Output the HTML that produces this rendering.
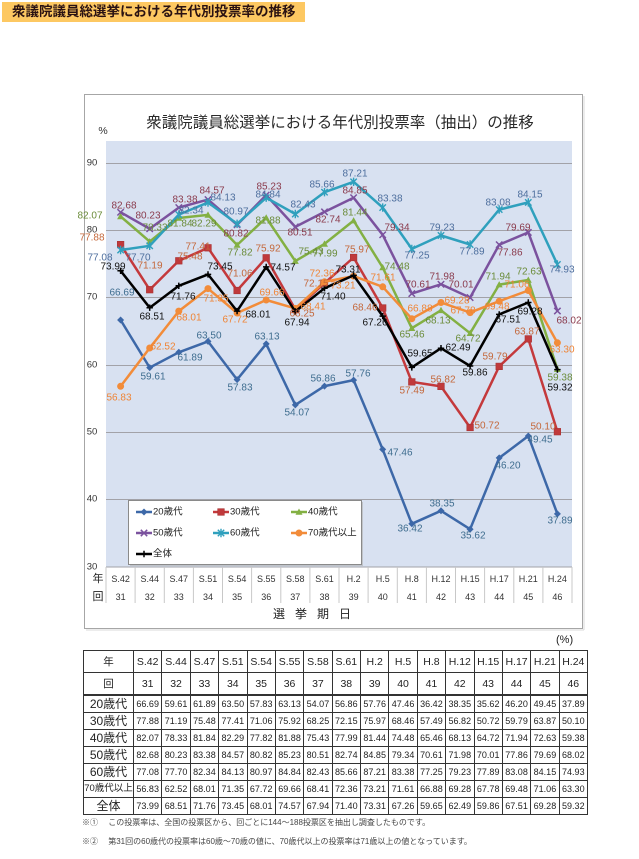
<!DOCTYPE html>
<html><head><meta charset="utf-8">
<style>
html,body{margin:0;padding:0;background:#fff;}
body{width:639px;height:859px;position:relative;overflow:hidden;font-family:"Liberation Sans","Noto Sans CJK JP",sans-serif;}
#banner{position:absolute;left:2px;top:2px;width:303px;height:20px;background:#fdc862;}
#banner span{position:absolute;left:10px;top:0;line-height:20px;font-size:13.5px;font-weight:bold;color:#2a1212;white-space:nowrap;font-family:"Liberation Sans","Noto Sans CJK JP",sans-serif;}
svg{position:absolute;left:0;top:0;}
#t{position:absolute;left:83px;top:650px;border-collapse:collapse;table-layout:fixed;width:505px;}
#t td{border:1px solid #333;padding:0;text-align:center;font-size:9px;color:#222;white-space:nowrap;overflow:hidden;line-height:14px;}
#t tr.h td{height:21px;font-size:10.5px;}
#t tr.h2 td{border-bottom:2px solid #333;}
#t tr.d td{height:16px;}
#t td.lab{font-size:12px;}
#t td.lab.s{font-size:9.5px;}
.pct{position:absolute;left:556px;top:634px;font-size:11px;color:#222;}
.fn{position:absolute;left:82px;font-size:8px;color:#444;white-space:nowrap;font-family:"Liberation Sans","Noto Sans CJK JP",sans-serif;}
</style></head><body>
<div id="banner"><span>衆議院議員総選挙における年代別投票率の推移</span></div>

<svg width="639" height="640" viewBox="0 0 639 640" xmlns="http://www.w3.org/2000/svg">
<defs>
<marker id="m1" markerWidth="10" markerHeight="10" refX="5" refY="5" markerUnits="userSpaceOnUse" overflow="visible"><path d="M5,1.5 L8.5,5 L5,8.5 L1.5,5Z" fill="#3d68a8"/></marker>
<marker id="m2" markerWidth="10" markerHeight="10" refX="5" refY="5" markerUnits="userSpaceOnUse" overflow="visible"><rect x="1.7" y="1.7" width="6.6" height="6.6" fill="#c0393b" stroke="#a83434" stroke-width="0.6"/></marker>
<marker id="m3" markerWidth="10" markerHeight="10" refX="5" refY="5" markerUnits="userSpaceOnUse" overflow="visible"><path d="M5,1.5 L8.5,7.8 L1.5,7.8Z" fill="#83b043"/></marker>
<marker id="m4" markerWidth="10" markerHeight="10" refX="5" refY="5" markerUnits="userSpaceOnUse" overflow="visible"><path d="M1.8,1.8 L8.2,8.2 M8.2,1.8 L1.8,8.2" stroke="#7b529e" stroke-width="1.5" fill="none"/></marker>
<marker id="m5" markerWidth="10" markerHeight="10" refX="5" refY="5" markerUnits="userSpaceOnUse" overflow="visible"><path d="M1.8,1.8 L8.2,8.2 M8.2,1.8 L1.8,8.2 M5,0.8 L5,9.2" stroke="#2fa0bd" stroke-width="1.4" fill="none"/></marker>
<marker id="m6" markerWidth="10" markerHeight="10" refX="5" refY="5" markerUnits="userSpaceOnUse" overflow="visible"><circle cx="5" cy="5" r="3.5" fill="#f28c3a"/></marker>
<marker id="m7" markerWidth="10" markerHeight="10" refX="5" refY="5" markerUnits="userSpaceOnUse" overflow="visible"><path d="M5,1.8 L5,8.2 M1.8,5 L8.2,5" stroke="#000" stroke-width="1.5" fill="none"/></marker>
</defs>

<!-- chart frame -->
<rect x="84.5" y="94.5" width="498" height="534" fill="#fff" stroke="#a6a6a6" stroke-width="1"/>
<line x1="584" y1="96" x2="584" y2="630" stroke="#d8d8d8" stroke-width="1"/>
<line x1="86" y1="630" x2="584" y2="630" stroke="#d8d8d8" stroke-width="1"/>

<!-- title -->
<text x="340" y="123" text-anchor="middle" dominant-baseline="central" font-size="15.5" fill="#2a2a2a" font-family="Liberation Sans, Noto Sans CJK JP, sans-serif">衆議院議員総選挙における年代別投票率（抽出）の推移</text>
<text x="103" y="131" text-anchor="middle" dominant-baseline="central" font-size="10.5" fill="#333" font-family="Liberation Sans, sans-serif">%</text>

<!-- plot area -->
<rect x="106" y="141" width="466" height="426" fill="#d8e1f1"/>
<g stroke="#a2a2a8" stroke-width="1">
<line x1="106" y1="163.5" x2="572" y2="163.5"/>
<line x1="106" y1="230.5" x2="572" y2="230.5"/>
<line x1="106" y1="297.5" x2="572" y2="297.5"/>
<line x1="106" y1="365.5" x2="572" y2="365.5"/>
<line x1="106" y1="432.5" x2="572" y2="432.5"/>
<line x1="106" y1="499.5" x2="572" y2="499.5"/>
<line x1="106" y1="567" x2="572" y2="567"/>
</g>
<g font-size="9.5" fill="#333" text-anchor="middle" dominant-baseline="central" font-family="Liberation Sans, sans-serif">
<text x="92" y="163">90</text>
<text x="92" y="230">80</text>
<text x="92" y="297">70</text>
<text x="92" y="365">60</text>
<text x="92" y="432">50</text>
<text x="92" y="499">40</text>
<text x="92" y="567">30</text>
</g>

<!-- category separators -->
<g stroke="#c8c8c8" stroke-width="1">
<line x1="106" y1="567" x2="106" y2="603"/>
<line x1="135.1" y1="567" x2="135.1" y2="603"/>
<line x1="164.3" y1="567" x2="164.3" y2="603"/>
<line x1="193.4" y1="567" x2="193.4" y2="603"/>
<line x1="222.5" y1="567" x2="222.5" y2="603"/>
<line x1="251.6" y1="567" x2="251.6" y2="603"/>
<line x1="280.8" y1="567" x2="280.8" y2="603"/>
<line x1="309.9" y1="567" x2="309.9" y2="603"/>
<line x1="339" y1="567" x2="339" y2="603"/>
<line x1="368.1" y1="567" x2="368.1" y2="603"/>
<line x1="397.3" y1="567" x2="397.3" y2="603"/>
<line x1="426.4" y1="567" x2="426.4" y2="603"/>
<line x1="455.5" y1="567" x2="455.5" y2="603"/>
<line x1="484.6" y1="567" x2="484.6" y2="603"/>
<line x1="513.8" y1="567" x2="513.8" y2="603"/>
<line x1="542.9" y1="567" x2="542.9" y2="603"/>
<line x1="572" y1="567" x2="572" y2="603"/>
</g>
<g font-size="9" fill="#333" text-anchor="middle" dominant-baseline="central" font-family="Liberation Sans, sans-serif">
<text x="120.6" y="579">S.42</text><text x="149.7" y="579">S.44</text><text x="178.8" y="579">S.47</text><text x="208" y="579">S.51</text>
<text x="237.1" y="579">S.54</text><text x="266.2" y="579">S.55</text><text x="295.3" y="579">S.58</text><text x="324.5" y="579">S.61</text>
<text x="353.6" y="579">H.2</text><text x="382.7" y="579">H.5</text><text x="411.8" y="579">H.8</text><text x="441" y="579">H.12</text>
<text x="470.1" y="579">H.15</text><text x="499.2" y="579">H.17</text><text x="528.3" y="579">H.21</text><text x="557.4" y="579">H.24</text>
<text x="120.6" y="597">31</text><text x="149.7" y="597">32</text><text x="178.8" y="597">33</text><text x="208" y="597">34</text>
<text x="237.1" y="597">35</text><text x="266.2" y="597">36</text><text x="295.3" y="597">37</text><text x="324.5" y="597">38</text>
<text x="353.6" y="597">39</text><text x="382.7" y="597">40</text><text x="411.8" y="597">41</text><text x="441" y="597">42</text>
<text x="470.1" y="597">43</text><text x="499.2" y="597">44</text><text x="528.3" y="597">45</text><text x="557.4" y="597">46</text>
</g>
<g font-size="11" fill="#222" text-anchor="middle" dominant-baseline="central" font-family="Liberation Sans, Noto Sans CJK JP, sans-serif">
<text x="98" y="579">年</text>
<text x="98" y="597">回</text>
</g>
<g font-size="12" fill="#222" text-anchor="middle" dominant-baseline="central" font-family="Liberation Sans, Noto Sans CJK JP, sans-serif">
<text x="279" y="614">選</text><text x="301" y="614">挙</text><text x="323" y="614">期</text><text x="345" y="614">日</text>
</g>

<!-- series -->
<g fill="none" stroke-width="2.5" stroke-linejoin="round">
<polyline stroke="#3d68a8" marker-start="url(#m1)" marker-mid="url(#m1)" marker-end="url(#m1)" points="120.6,320 149.7,367.6 178.8,352.3 208,341.4 237.1,379.6 266.2,343.9 295.3,404.9 324.5,386.1 353.6,380.1 382.7,449.4 411.8,523.8 441,510.8 470.1,529.2 499.2,457.9 528.3,436 557.4,513.9"/>
<polyline stroke="#c4393c" marker-start="url(#m2)" marker-mid="url(#m2)" marker-end="url(#m2)" points="120.6,244.6 149.7,289.7 178.8,260.8 208,247.8 237.1,290.5 266.2,257.8 295.3,309.5 324.5,283.2 353.6,257.5 382.7,308 411.8,381.9 441,386.4 470.1,427.5 499.2,366.4 528.3,338.9 557.4,431.7"/>
<polyline stroke="#83b043" marker-start="url(#m3)" marker-mid="url(#m3)" marker-end="url(#m3)" points="120.6,216.4 149.7,241.6 178.8,218 208,214.9 237.1,245 266.2,217.7 295.3,261.1 324.5,243.9 353.6,220.6 382.7,267.5 411.8,328.2 441,310.3 470.1,333.2 499.2,284.6 528.3,280 557.4,369.2"/>
<polyline stroke="#7b529e" marker-start="url(#m4)" marker-mid="url(#m4)" marker-end="url(#m4)" points="120.6,212.3 149.7,228.8 178.8,207.6 208,199.6 237.1,224.8 266.2,195.1 295.3,226.9 324.5,211.9 353.6,197.7 382.7,234.8 411.8,293.6 441,284.3 470.1,297.6 499.2,244.7 528.3,232.4 557.4,311"/>
<polyline stroke="#2fa0bd" marker-start="url(#m5)" marker-mid="url(#m5)" marker-end="url(#m5)" points="120.6,250 149.7,245.8 178.8,214.6 208,202.5 237.1,223.8 266.2,197.7 295.3,214 324.5,192.2 353.6,181.8 382.7,207.6 411.8,248.9 441,235.5 470.1,244.5 499.2,209.6 528.3,202.4 557.4,264.5"/>
<polyline stroke="#f28c3a" marker-start="url(#m6)" marker-mid="url(#m6)" marker-end="url(#m6)" points="120.6,386.3 149.7,348 178.8,311.1 208,288.6 237.1,313 266.2,300 295.3,308.4 324.5,281.8 353.6,276.1 382.7,286.8 411.8,318.7 441,302.5 470.1,312.6 499.2,301.2 528.3,290.5 557.4,342.8"/>
<polyline stroke="#000" marker-start="url(#m7)" marker-mid="url(#m7)" marker-end="url(#m7)" points="120.6,270.8 149.7,307.7 178.8,285.8 208,274.4 237.1,311.1 266.2,266.9 295.3,311.5 324.5,288.2 353.6,275.4 382.7,316.1 411.8,367.4 441,348.2 470.1,366 499.2,314.4 528.3,302.5 557.4,369.6"/>
</g>

<!-- data labels -->
<g font-size="10" text-anchor="middle" dominant-baseline="central" font-family="Liberation Sans, sans-serif">
<g fill="#3f6d8f">
<text x="122" y="293">66.69</text><text x="153" y="377">59.61</text><text x="190" y="358">61.89</text><text x="209" y="336">63.50</text>
<text x="240" y="388">57.83</text><text x="267" y="337">63.13</text><text x="297" y="413">54.07</text><text x="323" y="379">56.86</text>
<text x="358" y="374">57.76</text><text x="400" y="453">47.46</text><text x="410" y="529">36.42</text><text x="442" y="504">38.35</text>
<text x="473" y="536">35.62</text><text x="508" y="466">46.20</text><text x="540" y="440">49.45</text><text x="560" y="521">37.89</text>
</g>
<g fill="#c4673a">
<text x="92" y="238">77.88</text><text x="150" y="266">71.19</text><text x="190" y="257">75.48</text><text x="198" y="247">77.41</text>
<text x="240" y="274">71.06</text><text x="268" y="249">75.92</text><text x="302" y="314">68.25</text><text x="316" y="284">72.15</text>
<text x="357" y="250">75.97</text><text x="365" y="308">68.46</text><text x="412" y="391">57.49</text><text x="443" y="380">56.82</text>
<text x="487" y="426">50.72</text><text x="495" y="357">59.79</text><text x="527" y="332">63.87</text><text x="543" y="427">50.10</text>
</g>
<g fill="#6b8c3a">
<text x="90" y="216">82.07</text><text x="155" y="228">78.33</text><text x="180" y="224">81.84</text><text x="204" y="224">82.29</text>
<text x="240" y="253">77.82</text><text x="268" y="221">81.88</text><text x="311" y="252">75.43</text><text x="325" y="254">77.99</text>
<text x="355" y="213">81.44</text><text x="397" y="267">74.48</text><text x="412" y="335">65.46</text><text x="438" y="321">68.13</text>
<text x="468" y="339">64.72</text><text x="498" y="277">71.94</text><text x="529" y="272">72.63</text><text x="560" y="378">59.38</text>
</g>
<g fill="#8a3a4c">
<text x="124" y="206">82.68</text><text x="148" y="216">80.23</text><text x="185" y="200">83.38</text><text x="212" y="191">84.57</text>
<text x="236" y="234">80.82</text><text x="269" y="187">85.23</text><text x="300" y="233">80.51</text><text x="328" y="220">82.74</text>
<text x="355" y="191">84.85</text><text x="397" y="228">79.34</text><text x="418" y="285">70.61</text><text x="442" y="277">71.98</text>
<text x="461" y="285">70.01</text><text x="510" y="253">77.86</text><text x="518" y="228">79.69</text><text x="569" y="321">68.02</text>
</g>
<g fill="#4d6e9d">
<text x="100" y="258">77.08</text><text x="138" y="258">77.70</text><text x="191" y="211">82.34</text><text x="223" y="198">84.13</text>
<text x="236" y="212">80.97</text><text x="268" y="195">84.84</text><text x="303" y="205">82.43</text><text x="322" y="185">85.66</text>
<text x="355" y="174">87.21</text><text x="390" y="199">83.38</text><text x="417" y="256">77.25</text><text x="442" y="228">79.23</text>
<text x="472" y="252">77.89</text><text x="498" y="203">83.08</text><text x="530" y="195">84.15</text><text x="562" y="270">74.93</text>
</g>
<g fill="#ef8435">
<text x="119" y="398">56.83</text><text x="163" y="347">62.52</text><text x="189" y="318">68.01</text><text x="216" y="299">71.35</text>
<text x="235" y="320">67.72</text><text x="272" y="293">69.66</text><text x="313" y="307">68.41</text><text x="322" y="274">72.36</text>
<text x="343" y="286">73.21</text><text x="383" y="278">71.61</text><text x="420" y="309">66.88</text><text x="457" y="301">69.28</text>
<text x="463" y="311">67.78</text><text x="497" y="307">69.48</text><text x="517" y="285">71.06</text><text x="562" y="350">63.30</text>
</g>
<g fill="#111">
<text x="113" y="267">73.99</text><text x="152" y="317">68.51</text><text x="183" y="297">71.76</text><text x="220" y="267">73.45</text>
<text x="258" y="315">68.01</text><text x="283" y="268">74.57</text><text x="297" y="323">67.94</text><text x="333" y="297">71.40</text>
<text x="348" y="270">73.31</text><text x="375" y="323">67.26</text><text x="420" y="354">59.65</text><text x="458" y="348">62.49</text>
<text x="475" y="373">59.86</text><text x="508" y="320">67.51</text><text x="530" y="312">69.28</text><text x="560" y="388">59.32</text>
</g>
</g>

<!-- legend -->
<rect x="130" y="502" width="233" height="64" fill="#b0b0b0" opacity="0.6"/>
<rect x="128.5" y="500.5" width="233" height="64" fill="#fff" stroke="#8a8a8a" stroke-width="1"/>
<g fill="none" stroke-width="2.5">
<polyline stroke="#3d68a8" marker-mid="url(#m1)" points="136,512 144,512 152,512"/>
<polyline stroke="#c4393c" marker-mid="url(#m2)" points="213,512 221,512 229,512"/>
<polyline stroke="#83b043" marker-mid="url(#m3)" points="291,512 299,512 307,512"/>
<polyline stroke="#7b529e" marker-mid="url(#m4)" points="136,533 144,533 152,533"/>
<polyline stroke="#2fa0bd" marker-mid="url(#m5)" points="213,533 221,533 229,533"/>
<polyline stroke="#f28c3a" marker-mid="url(#m6)" points="291,533 299,533 307,533"/>
<polyline stroke="#000" marker-mid="url(#m7)" points="136,554 144,554 152,554"/>
</g>
<g font-size="9.5" fill="#222" dominant-baseline="central" font-family="Liberation Sans, Noto Sans CJK JP, sans-serif">
<text x="153" y="512">20歳代</text><text x="230" y="512">30歳代</text><text x="308" y="512">40歳代</text>
<text x="153" y="533">50歳代</text><text x="230" y="533">60歳代</text><text x="308" y="533">70歳代以上</text>
<text x="153" y="554">全体</text>
</g>
</svg>

<div class="pct">(%)</div>

<table id="t">
<colgroup><col style="width:50px"><col><col><col><col><col><col><col><col><col><col><col><col><col><col><col><col></colgroup>
<tr class="h"><td class="lab">年</td><td>S.42</td><td>S.44</td><td>S.47</td><td>S.51</td><td>S.54</td><td>S.55</td><td>S.58</td><td>S.61</td><td>H.2</td><td>H.5</td><td>H.8</td><td>H.12</td><td>H.15</td><td>H.17</td><td>H.21</td><td>H.24</td></tr>
<tr class="h h2"><td class="lab">回</td><td>31</td><td>32</td><td>33</td><td>34</td><td>35</td><td>36</td><td>37</td><td>38</td><td>39</td><td>40</td><td>41</td><td>42</td><td>43</td><td>44</td><td>45</td><td>46</td></tr>
<tr class="d"><td class="lab">20歳代</td><td>66.69</td><td>59.61</td><td>61.89</td><td>63.50</td><td>57.83</td><td>63.13</td><td>54.07</td><td>56.86</td><td>57.76</td><td>47.46</td><td>36.42</td><td>38.35</td><td>35.62</td><td>46.20</td><td>49.45</td><td>37.89</td></tr>
<tr class="d"><td class="lab">30歳代</td><td>77.88</td><td>71.19</td><td>75.48</td><td>77.41</td><td>71.06</td><td>75.92</td><td>68.25</td><td>72.15</td><td>75.97</td><td>68.46</td><td>57.49</td><td>56.82</td><td>50.72</td><td>59.79</td><td>63.87</td><td>50.10</td></tr>
<tr class="d"><td class="lab">40歳代</td><td>82.07</td><td>78.33</td><td>81.84</td><td>82.29</td><td>77.82</td><td>81.88</td><td>75.43</td><td>77.99</td><td>81.44</td><td>74.48</td><td>65.46</td><td>68.13</td><td>64.72</td><td>71.94</td><td>72.63</td><td>59.38</td></tr>
<tr class="d"><td class="lab">50歳代</td><td>82.68</td><td>80.23</td><td>83.38</td><td>84.57</td><td>80.82</td><td>85.23</td><td>80.51</td><td>82.74</td><td>84.85</td><td>79.34</td><td>70.61</td><td>71.98</td><td>70.01</td><td>77.86</td><td>79.69</td><td>68.02</td></tr>
<tr class="d"><td class="lab">60歳代</td><td>77.08</td><td>77.70</td><td>82.34</td><td>84.13</td><td>80.97</td><td>84.84</td><td>82.43</td><td>85.66</td><td>87.21</td><td>83.38</td><td>77.25</td><td>79.23</td><td>77.89</td><td>83.08</td><td>84.15</td><td>74.93</td></tr>
<tr class="d"><td class="lab s">70歳代以上</td><td>56.83</td><td>62.52</td><td>68.01</td><td>71.35</td><td>67.72</td><td>69.66</td><td>68.41</td><td>72.36</td><td>73.21</td><td>71.61</td><td>66.88</td><td>69.28</td><td>67.78</td><td>69.48</td><td>71.06</td><td>63.30</td></tr>
<tr class="d"><td class="lab">全体</td><td>73.99</td><td>68.51</td><td>71.76</td><td>73.45</td><td>68.01</td><td>74.57</td><td>67.94</td><td>71.40</td><td>73.31</td><td>67.26</td><td>59.65</td><td>62.49</td><td>59.86</td><td>67.51</td><td>69.28</td><td>59.32</td></tr>
</table>

<div class="fn" style="top:817px;">※①　&nbsp;この投票率は、全国の投票区から、回ごとに144～188投票区を抽出し調査したものです。</div>
<div class="fn" style="top:836px;">※②　&nbsp;第31回の60歳代の投票率は60歳～70歳の値に、70歳代以上の投票率は71歳以上の値となっています。</div>
</body></html>
